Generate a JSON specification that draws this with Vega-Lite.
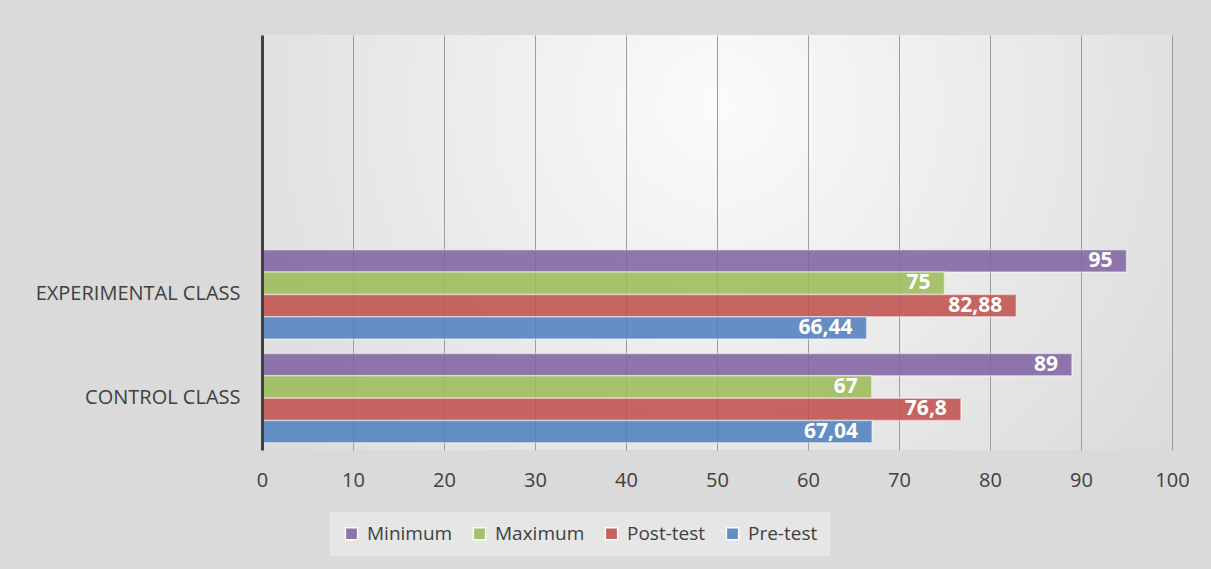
{
  "$schema": "https://vega.github.io/schema/vega-lite/v6.json",
  "width": 910,
  "height": 415,
  "autosize": {"type": "none"},
  "padding": {"left": 262, "top": 35, "right": 39, "bottom": 119},
  "background": "#dadada",
  "data": {
    "values": [
      {"class": "EXPERIMENTAL CLASS", "series": "Minimum", "value": 95},
      {"class": "EXPERIMENTAL CLASS", "series": "Maximum", "value": 75},
      {"class": "EXPERIMENTAL CLASS", "series": "Post-test", "value": 82.88},
      {"class": "EXPERIMENTAL CLASS", "series": "Pre-test", "value": 66.44},
      {"class": "CONTROL CLASS", "series": "Minimum", "value": 89},
      {"class": "CONTROL CLASS", "series": "Maximum", "value": 67},
      {"class": "CONTROL CLASS", "series": "Post-test", "value": 76.8},
      {"class": "CONTROL CLASS", "series": "Pre-test", "value": 67.04}
    ]
  },
  "encoding": {
    "y": {
      "field": "class",
      "type": "nominal",
      "title": null,
      "scale": {"domain": [" ", "  ", "EXPERIMENTAL CLASS", "CONTROL CLASS"], "paddingInner": 0.14, "paddingOuter": 0.07},
      "axis": {"domain": true, "domainColor": "#404040", "domainWidth": 3, "ticks": false, "grid": false, "labelFontSize": 20, "labelColor": "#404040", "labelPadding": 22, "labelLimit": 0, "zindex": 2}
    },
    "yOffset": {
      "field": "series",
      "type": "nominal",
      "sort": ["Minimum", "Maximum", "Post-test", "Pre-test"],
      "scale": {"paddingInner": 0, "paddingOuter": 0}
    },
    "x": {
      "field": "value",
      "type": "quantitative",
      "title": null,
      "scale": {"domain": [0, 100], "nice": false},
      "axis": {"values": [0, 10, 20, 30, 40, 50, 60, 70, 80, 90, 100], "domain": false, "ticks": false, "grid": true, "gridColor": "#9c9c9c", "gridWidth": 1, "labelFontSize": 20, "labelColor": "#404040", "labelPadding": 20, "labelFlush": false, "labelOverlap": false, "zindex": 0}
    }
  },
  "layer": [
    {
      "mark": {"type": "bar", "fillOpacity": 0.87, "stroke": "#ffffff", "strokeOpacity": 0.45, "strokeWidth": 1.5},
      "encoding": {
        "color": {
          "field": "series",
          "type": "nominal",
          "scale": {"domain": ["Minimum", "Maximum", "Post-test", "Pre-test"], "range": ["#8064A2", "#9BBB59", "#C0504D", "#4F81BD"]},
          "legend": {"orient": "none", "legendX": 68, "legendY": 477, "direction": "horizontal", "columns": 4, "title": null, "symbolType": "square", "symbolSize": 150, "labelFontSize": 19, "labelColor": "#404040", "columnPadding": 17, "padding": 12, "fillColor": "#e6e6e6", "labelOffset": 6, "symbolOpacity": 0.87}
        }
      }
    },
    {
      "mark": {"type": "text", "align": "right", "baseline": "middle", "dx": -14, "color": "#ffffff", "fontWeight": "bold", "fontSize": 21},
      "encoding": {
        "text": {"field": "value", "type": "quantitative", "format": "~g"}
      }
    }
  ],
  "config": {
    "font": "Open Sans",
    "locale": {"number": {"decimal": ",", "thousands": ".", "grouping": [3], "currency": ["", " €"]}},
    "view": {
      "stroke": null,
      "fill": {"gradient": "radial", "x1": 0.5, "y1": 0.35, "r1": 0, "x2": 0.5, "y2": 0.35, "r2": 0.85, "stops": [{"offset": 0, "color": "#fbfbfb"}, {"offset": 1, "color": "#cfcfcf"}]}
    }
  }
}
